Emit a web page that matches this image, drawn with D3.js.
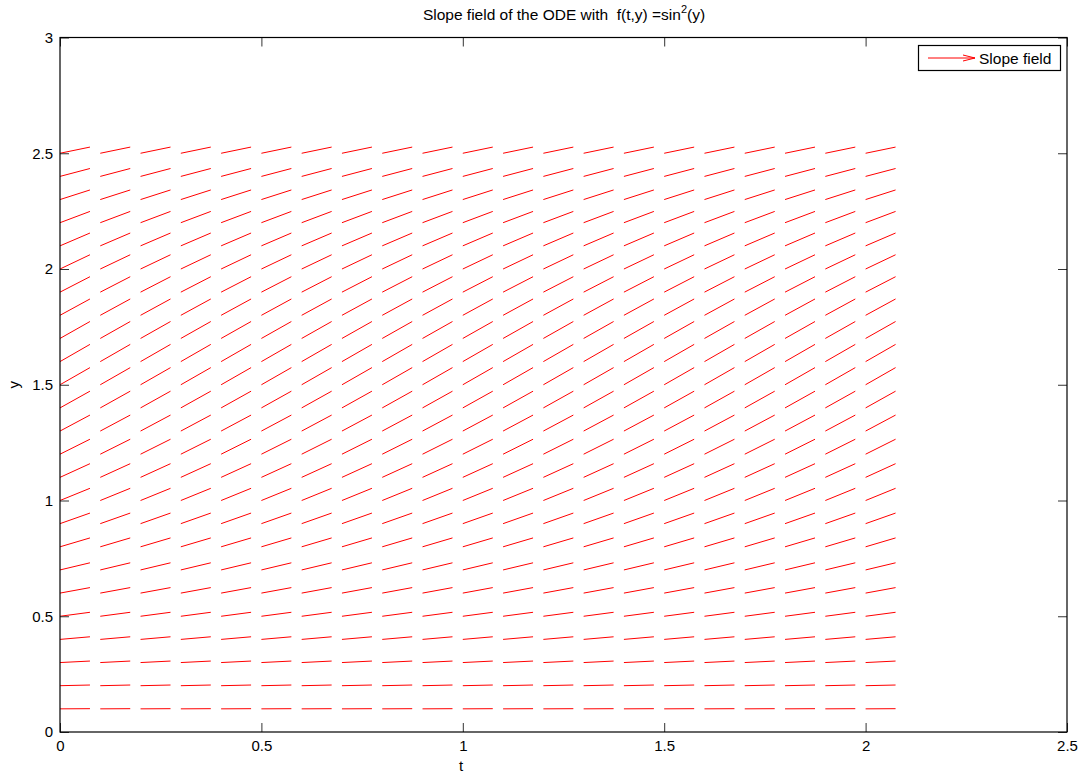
<!DOCTYPE html>
<html>
<head>
<meta charset="utf-8">
<script src="https://cdn.jsdelivr.net/npm/d3@7"></script>
<style>
body { margin: 0; background: #fff; }
svg text { font-family: "Liberation Sans", Arial, Helvetica, sans-serif; }
</style>
</head>
<body>
<div id="chart"></div>
<script>
// grid of sample points
var tValues = [0, 0.1, 0.2, 0.3, 0.4, 0.5, 0.6, 0.7, 0.8, 0.9, 1.0,
    1.1, 1.2, 1.3, 1.4, 1.5, 1.6, 1.7, 1.8, 1.9, 2.0];
var yValues = [0.1, 0.2, 0.3, 0.4, 0.5, 0.6, 0.7, 0.8, 0.9, 1.0,
    1.1, 1.2, 1.3, 1.4, 1.5, 1.6, 1.7, 1.8, 1.9, 2.0,
    2.1, 2.2, 2.3, 2.4, 2.5];
// slope at each row (same for every t)
var slopes = [0.010, 0.039, 0.087, 0.152, 0.230, 0.319, 0.415, 0.515, 0.614, 0.708,
    0.794, 0.869, 0.928, 0.971, 0.995, 0.999, 0.983, 0.948, 0.896, 0.827,
    0.745, 0.654, 0.557, 0.458, 0.358];
var stepT = 0.0744; // horizontal run of each segment

var xTicks = [0, 0.5, 1, 1.5, 2, 2.5];
var yTicks = [0, 0.5, 1, 1.5, 2, 2.5, 3];

var svg = d3.select("#chart")
    .append("svg")
    .attr("width", 1086)
    .attr("height", 776);

var plotLeft = 60, plotRight = 1067, plotTop = 37.5, plotBottom = 732;

var x = d3.scaleLinear().domain([0, 2.5]).range([plotLeft, plotRight]);
var y = d3.scaleLinear().domain([0, 3]).range([plotBottom, plotTop]);

// segments
var cells = [];
yValues.forEach(function (yv, i) {
    tValues.forEach(function (tv) {
        cells.push({t: tv, y: yv, s: slopes[i]});
    });
});

svg.append("g")
    .selectAll("line")
    .data(cells)
    .enter()
    .append("line")
    .attr("x1", function (d) { return x(d.t); })
    .attr("y1", function (d) { return y(d.y); })
    .attr("x2", function (d) { return x(d.t + stepT); })
    .attr("y2", function (d) { return y(d.y + d.s * stepT); })
    .attr("stroke", "#ff0000")
    .attr("stroke-width", 1);

// axes, ticks pointing inward on all sides
var tickLen = 9;
var axisBottom = d3.axisBottom(x).tickValues(xTicks).tickSizeInner(-tickLen).tickSizeOuter(0)
    .tickPadding(8).tickFormat(d3.format(""));
var axisLeft = d3.axisLeft(y).tickValues(yTicks).tickSizeInner(-tickLen).tickSizeOuter(0)
    .tickPadding(7).tickFormat(d3.format(""));

svg.append("g")
    .attr("transform", "translate(0," + plotBottom + ")")
    .call(axisBottom);
svg.append("g")
    .attr("transform", "translate(" + plotLeft + ",0)")
    .call(axisLeft);
svg.append("g")
    .attr("transform", "translate(0," + plotTop + ")")
    .call(d3.axisTop(x).tickValues(xTicks).tickSizeInner(-tickLen).tickSizeOuter(0).tickFormat(""));
svg.append("g")
    .attr("transform", "translate(" + plotRight + ",0)")
    .call(d3.axisRight(y).tickValues(yTicks).tickSizeInner(-tickLen).tickSizeOuter(0).tickFormat(""));

svg.selectAll(".domain").remove();
svg.selectAll(".tick line").attr("stroke", "#333");
svg.selectAll(".tick text")
    .attr("font-size", "15px")
    .attr("fill", "#000")
    .style("font-family", "'Liberation Sans', Arial, sans-serif");

// frame
svg.append("rect")
    .attr("x", plotLeft)
    .attr("y", plotTop)
    .attr("width", plotRight - plotLeft)
    .attr("height", plotBottom - plotTop)
    .attr("fill", "none")
    .attr("stroke", "#000")
    .attr("stroke-width", 1.2);

// labels
svg.append("text")
    .attr("x", 461)
    .attr("y", 771)
    .attr("text-anchor", "middle")
    .attr("font-size", "15px")
    .text("t");

svg.append("text")
    .attr("transform", "translate(19," + ((plotTop + plotBottom) / 2) + ") rotate(-90)")
    .attr("text-anchor", "middle")
    .attr("font-size", "15px")
    .text("y");

var title = svg.append("text")
    .attr("x", 564)
    .attr("y", 19.5)
    .attr("text-anchor", "middle")
    .attr("font-size", "15.5px")
    .style("white-space", "pre")
    .text("Slope field of the ODE with  f(t,y) =sin");
title.append("tspan").attr("dy", -7).attr("font-size", "11px").text("2");
title.append("tspan").attr("dy", 7).text("(y)");

// legend
var legend = svg.append("g").attr("id", "legend");
legend.append("rect")
    .attr("x", 918.5)
    .attr("y", 45.5)
    .attr("width", 142)
    .attr("height", 25)
    .attr("fill", "#fff")
    .attr("stroke", "#000")
    .attr("stroke-width", 1.2);
legend.append("line")
    .attr("x1", 928).attr("y1", 58)
    .attr("x2", 975).attr("y2", 58)
    .attr("stroke", "#ff0000");
legend.append("path")
    .attr("d", "M963,55L975,58L963,61")
    .attr("fill", "none")
    .attr("stroke", "#ff0000");
legend.append("text")
    .attr("x", 979)
    .attr("y", 63.5)
    .attr("font-size", "15.5px")
    .text("Slope field");
</script>
</body>
</html>
